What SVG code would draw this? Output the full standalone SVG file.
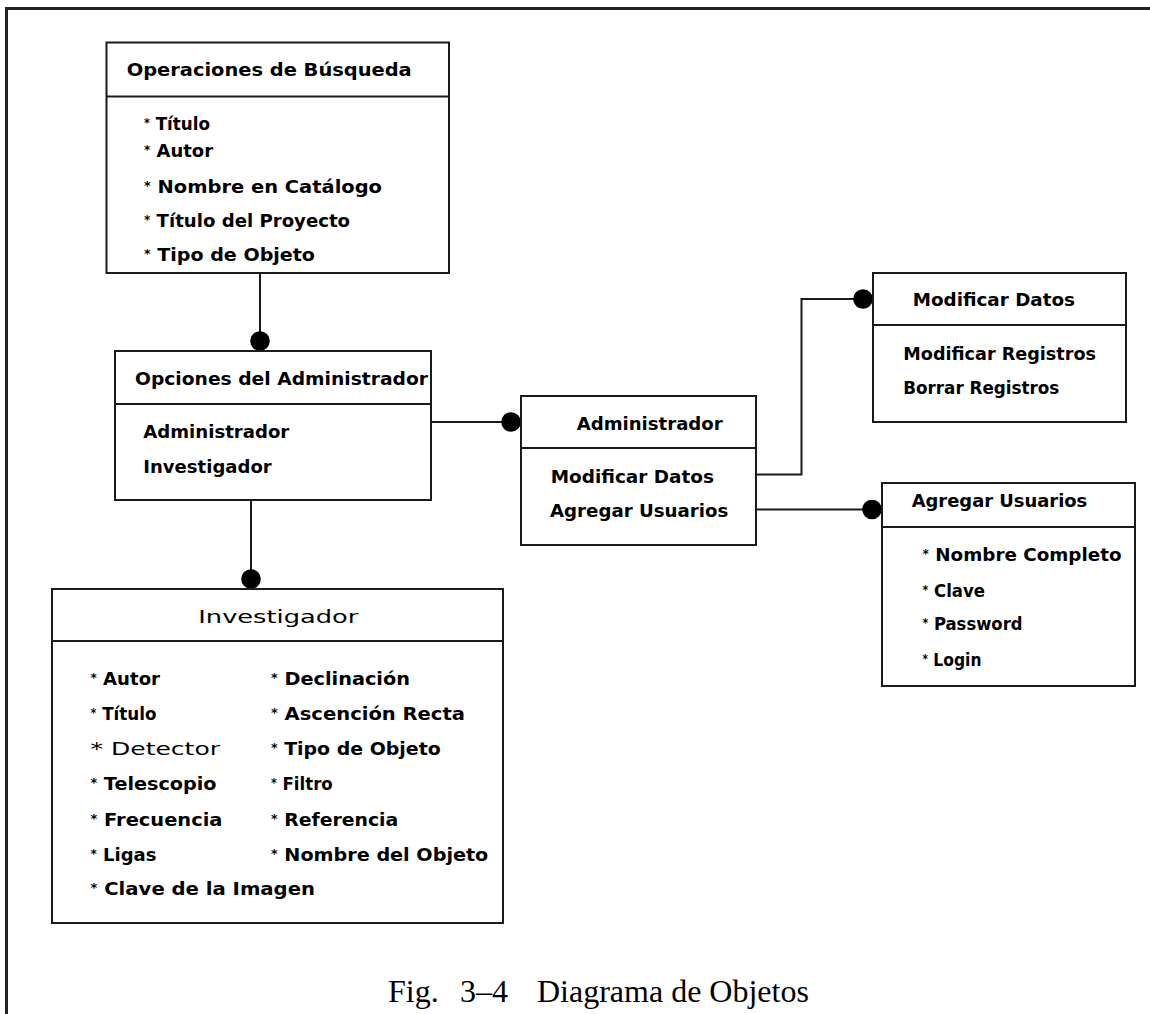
<svg xmlns="http://www.w3.org/2000/svg" width="1150" height="1014" viewBox="0 0 1150 1014">
<style>
.box{fill:#fff;stroke:#1a1a1a;stroke-width:2}
.div{stroke:#1a1a1a;stroke-width:2}
.t{font-family:"DejaVu Sans","Liberation Sans",sans-serif;font-weight:bold;font-size:18px;fill:#000}
.n{font-weight:normal}
.b{font-size:12px}
.conn{fill:none;stroke:#1a1a1a;stroke-width:2;marker-end:url(#dot)}
.cap{font-family:"Liberation Serif","Times New Roman",serif;font-size:32px;fill:#000}
</style>
<defs>
<marker id="dot" viewBox="0 0 20 20" refX="10" refY="10" markerWidth="20" markerHeight="20" markerUnits="userSpaceOnUse">
<circle cx="10" cy="10" r="9.8" fill="#000"/>
</marker>
</defs>
<rect width="1150" height="1014" fill="#fff"/>
<path d="M6.5 1014 V8.5 H1150" fill="none" stroke="#222" stroke-width="3"/>

<g id="connectors">
<path class="conn" d="M260 273 V341"/>
<path class="conn" d="M251 500 V579"/>
<path class="conn" d="M431 422 H511"/>
<path class="conn" d="M756 474.5 H801.5 V299 H863"/>
<path class="conn" d="M756 509.5 H872"/>
</g>

<g id="operaciones-busqueda">
<rect class="box" x="106.5" y="42.5" width="342.5" height="230.5"/>
<line class="div" x1="106.5" y1="96.5" x2="449" y2="96.5"/>
<text class="t" x="126.7" y="76" textLength="285" lengthAdjust="spacingAndGlyphs">Operaciones de Búsqueda</text>
<text class="t" x="144" y="130" textLength="66" lengthAdjust="spacingAndGlyphs"><tspan class="b" dy="-3">*</tspan><tspan dy="3"> Título</tspan></text>
<text class="t" x="144" y="156.7" textLength="69" lengthAdjust="spacingAndGlyphs"><tspan class="b" dy="-3">*</tspan><tspan dy="3"> Autor</tspan></text>
<text class="t" x="144" y="192.7" textLength="238" lengthAdjust="spacingAndGlyphs"><tspan class="b" dy="-3">*</tspan><tspan dy="3"> Nombre en Catálogo</tspan></text>
<text class="t" x="144" y="227" textLength="206" lengthAdjust="spacingAndGlyphs"><tspan class="b" dy="-3">*</tspan><tspan dy="3"> Título del Proyecto</tspan></text>
<text class="t" x="144" y="260.5" textLength="171" lengthAdjust="spacingAndGlyphs"><tspan class="b" dy="-3">*</tspan><tspan dy="3"> Tipo de Objeto</tspan></text>
</g>

<g id="opciones-administrador">
<rect class="box" x="115" y="351" width="316" height="149"/>
<line class="div" x1="115" y1="404" x2="431" y2="404"/>
<text class="t" x="135" y="385" textLength="293" lengthAdjust="spacingAndGlyphs">Opciones del Administrador</text>
<text class="t" x="143.3" y="438.3" textLength="146" lengthAdjust="spacingAndGlyphs">Administrador</text>
<text class="t" x="143.3" y="472.7" textLength="128.4" lengthAdjust="spacingAndGlyphs">Investigador</text>
</g>

<g id="administrador">
<rect class="box" x="521" y="396" width="235" height="149"/>
<line class="div" x1="521" y1="448" x2="756" y2="448"/>
<text class="t" x="576.7" y="430" textLength="146" lengthAdjust="spacingAndGlyphs">Administrador</text>
<text class="t" x="550.7" y="482.7" textLength="163.3" lengthAdjust="spacingAndGlyphs">Modificar Datos</text>
<text class="t" x="550" y="517.3" textLength="178.3" lengthAdjust="spacingAndGlyphs">Agregar Usuarios</text>
</g>

<g id="modificar-datos">
<rect class="box" x="873" y="273" width="253" height="149"/>
<line class="div" x1="873" y1="325" x2="1126" y2="325"/>
<text class="t" x="912.7" y="306" textLength="162.3" lengthAdjust="spacingAndGlyphs">Modificar Datos</text>
<text class="t" x="903.3" y="360" textLength="192.7" lengthAdjust="spacingAndGlyphs">Modificar Registros</text>
<text class="t" x="903.3" y="394" textLength="156" lengthAdjust="spacingAndGlyphs">Borrar Registros</text>
</g>

<g id="agregar-usuarios">
<rect class="box" x="882" y="483" width="253" height="203"/>
<line class="div" x1="882" y1="527" x2="1135" y2="527"/>
<text class="t" x="911.7" y="507.3" textLength="175.6" lengthAdjust="spacingAndGlyphs">Agregar Usuarios</text>
<text class="t" x="922.5" y="561" textLength="199" lengthAdjust="spacingAndGlyphs"><tspan class="b" dy="-3">*</tspan><tspan dy="3"> Nombre Completo</tspan></text>
<text class="t" x="922.5" y="596.7" textLength="62.5" lengthAdjust="spacingAndGlyphs"><tspan class="b" dy="-3">*</tspan><tspan dy="3"> Clave</tspan></text>
<text class="t" x="922.5" y="630" textLength="100" lengthAdjust="spacingAndGlyphs"><tspan class="b" dy="-3">*</tspan><tspan dy="3"> Password</tspan></text>
<text class="t" x="922.5" y="666" textLength="59" lengthAdjust="spacingAndGlyphs"><tspan class="b" dy="-3">*</tspan><tspan dy="3"> Login</tspan></text>
</g>

<g id="investigador">
<rect class="box" x="52" y="589" width="451" height="334"/>
<line class="div" x1="52" y1="641" x2="503" y2="641"/>
<text class="t n" x="198.3" y="623.3" font-size="24" textLength="160" lengthAdjust="spacingAndGlyphs">Investigador</text>
<text class="t" x="90.5" y="685" textLength="69.5" lengthAdjust="spacingAndGlyphs"><tspan class="b" dy="-3">*</tspan><tspan dy="3"> Autor</tspan></text>
<text class="t" x="90.5" y="720" textLength="66" lengthAdjust="spacingAndGlyphs"><tspan class="b" dy="-3">*</tspan><tspan dy="3"> Título</tspan></text>
<text class="t n" x="90.5" y="755" font-size="22" textLength="129.5" lengthAdjust="spacingAndGlyphs">*  Detector</text>
<text class="t" x="90.5" y="790" textLength="126" lengthAdjust="spacingAndGlyphs"><tspan class="b" dy="-3">*</tspan><tspan dy="3"> Telescopio</tspan></text>
<text class="t" x="90.5" y="825.7" textLength="132" lengthAdjust="spacingAndGlyphs"><tspan class="b" dy="-3">*</tspan><tspan dy="3"> Frecuencia</tspan></text>
<text class="t" x="90.5" y="861" textLength="66" lengthAdjust="spacingAndGlyphs"><tspan class="b" dy="-3">*</tspan><tspan dy="3"> Ligas</tspan></text>
<text class="t" x="90.5" y="895" textLength="224.5" lengthAdjust="spacingAndGlyphs"><tspan class="b" dy="-3">*</tspan><tspan dy="3"> Clave de la Imagen</tspan></text>
<text class="t" x="271" y="685" textLength="139" lengthAdjust="spacingAndGlyphs"><tspan class="b" dy="-3">*</tspan><tspan dy="3"> Declinación</tspan></text>
<text class="t" x="271" y="720" textLength="194" lengthAdjust="spacingAndGlyphs"><tspan class="b" dy="-3">*</tspan><tspan dy="3"> Ascención Recta</tspan></text>
<text class="t" x="271" y="754.5" textLength="169.7" lengthAdjust="spacingAndGlyphs"><tspan class="b" dy="-3">*</tspan><tspan dy="3"> Tipo de Objeto</tspan></text>
<text class="t" x="271" y="790" textLength="61.7" lengthAdjust="spacingAndGlyphs"><tspan class="b" dy="-3">*</tspan><tspan dy="3"> Filtro</tspan></text>
<text class="t" x="271" y="825.7" textLength="127.3" lengthAdjust="spacingAndGlyphs"><tspan class="b" dy="-3">*</tspan><tspan dy="3"> Referencia</tspan></text>
<text class="t" x="271" y="861" textLength="217.3" lengthAdjust="spacingAndGlyphs"><tspan class="b" dy="-3">*</tspan><tspan dy="3"> Nombre del Objeto</tspan></text>
</g>

<text class="cap" y="1002"><tspan x="388">Fig.</tspan><tspan x="460">3–4</tspan><tspan x="537">Diagrama de Objetos</tspan></text>
</svg>
